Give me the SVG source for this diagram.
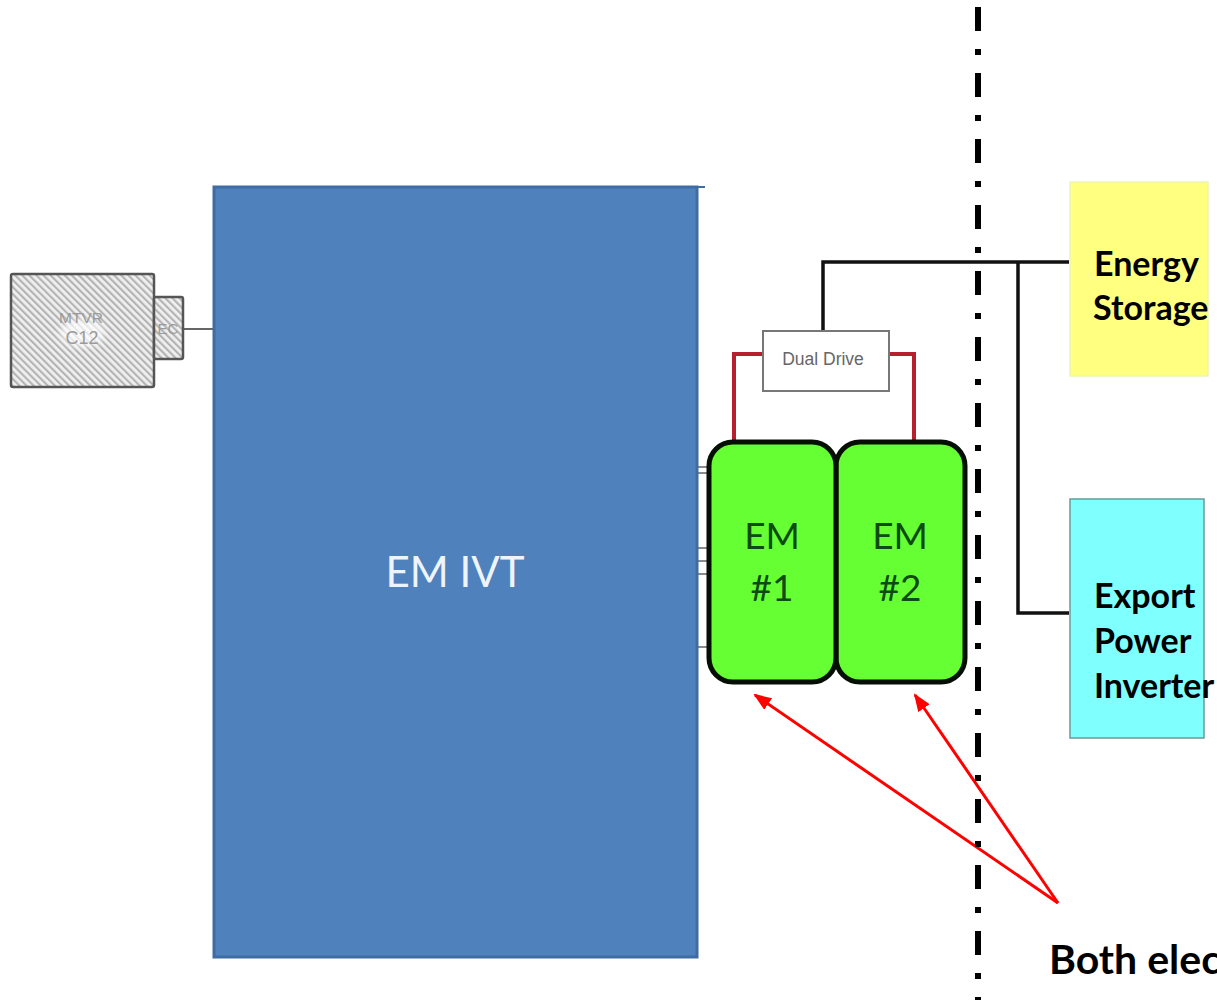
<svg xmlns="http://www.w3.org/2000/svg" width="1217" height="1000" viewBox="0 0 1217 1000">
<style>
text{font-family:Lato,"Liberation Sans",sans-serif}
.lbl{font-weight:700;font-size:34px;fill:#000}
.em{font-size:37px;fill:#0f4a12;text-anchor:middle}
.hatchbox{fill:url(#hatch);stroke:#555;stroke-width:2.5}
.small{font-family:"Liberation Sans",sans-serif;fill:#9a9a9a;text-anchor:middle}
.wire{fill:none;stroke:#111;stroke-width:3.5}
.red{fill:none;stroke:#b5202c;stroke-width:4}
.arrow{fill:none;stroke:#f00;stroke-width:3;marker-end:url(#ah)}
.tick{stroke:#666;stroke-width:1.5}
.dd{font-family:"Liberation Sans",sans-serif;font-size:17.5px;fill:#666;text-anchor:middle}
</style>
<defs>
<pattern id="hatch" width="5" height="5" patternUnits="userSpaceOnUse" patternTransform="rotate(-45)">
<rect width="5" height="5" fill="#f0f0f0"/><rect width="2.200" height="5" fill="#b4b4b4"/>
</pattern>
<marker id="ah" markerWidth="18" markerHeight="14" refX="16" refY="7" orient="auto" markerUnits="userSpaceOnUse"><path d="M0 0L18 7L0 14Z" fill="#f00"/></marker>
<filter id="soft"><feGaussianBlur stdDeviation="3"/></filter>
</defs>
<rect width="1217" height="1000" fill="#fff"/>
<g id="connectors">
<path class="wire" d="M1069 262H823V331"/>
<path class="wire" d="M1018 262V613H1069"/>
<path class="red" d="M763 354H734V442"/>
<path class="red" d="M889 354H914V442"/>
<path d="M183 329H213" fill="none" stroke="#666" stroke-width="2"/>
<path class="tick" d="M696 467H708M696 473H708M696 548H708M696 561H708M696 574H708M696 647H708"/>
<path class="arrow" d="M1058 903L755 695"/>
<path class="arrow" d="M1058 903L915 695"/>
</g>
<path id="divider" d="M978 7V1000" fill="none" stroke="#000" stroke-width="6" stroke-dasharray="24 18 6 18"/>
<g id="mtvr">
<rect class="hatchbox" x="11" y="274" width="143" height="113" rx="2"/>
<ellipse cx="82" cy="333" rx="22" ry="14" fill="#fff" opacity=".7" filter="url(#soft)"/>
<text class="small" font-size="15.500" x="81" y="323">MTVR</text>
<text class="small" font-size="18" x="82" y="344">C12</text>
</g>
<g id="ec">
<rect class="hatchbox" x="154" y="297" width="29" height="62" rx="2"/>
<text class="small" font-size="15" x="168" y="334">EC</text>
</g>
<g id="em-ivt">
<path d="M696 187H705" stroke="#3f6da3" stroke-width="2"/>
<rect x="214" y="187" width="483" height="770" fill="#4f81bd" stroke="#3f6da3" stroke-width="3"/>
<text x="455" y="587" font-size="42" fill="#eef4fb" text-anchor="middle">EM IVT</text>
</g>
<g id="dual-drive">
<rect x="763" y="331" width="126" height="60" fill="#fff" stroke="#777" stroke-width="2"/>
<text class="dd" x="823" y="365">Dual Drive</text>
</g>
<g id="em2">
<rect x="836" y="442" width="129" height="240" rx="24" fill="#66ff33" stroke="#050f05" stroke-width="5"/>
<text class="em" x="900" y="549">EM</text>
<text class="em" x="900" y="601">#2</text>
</g>
<g id="em1">
<rect x="709" y="442" width="127" height="240" rx="24" fill="#66ff33" stroke="#050f05" stroke-width="5"/>
<text class="em" x="772" y="549">EM</text>
<text class="em" x="772" y="601">#1</text>
</g>
<g id="energy-storage">
<rect x="1070" y="182" width="138" height="194" fill="#ffff80" stroke="#eef5b0" stroke-width="1.500"/>
<text class="lbl" x="1094" y="276">Energy</text>
<text class="lbl" x="1093" y="320">Storage</text>
</g>
<g id="export-power-inverter">
<rect x="1070" y="499" width="134" height="239" fill="#80ffff" stroke="#6b9a9a" stroke-width="1.500"/>
<text class="lbl" x="1094" y="608">Export</text>
<text class="lbl" x="1094" y="653">Power</text>
<text class="lbl" x="1094" y="698">Inverter</text>
</g>
<g id="caption">
<text x="1049" y="974" font-size="41" font-weight="700" fill="#000">Both elec</text>
</g>
</svg>
